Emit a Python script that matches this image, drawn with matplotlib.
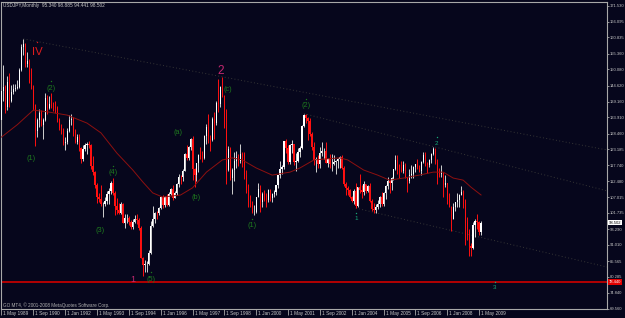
import matplotlib

matplotlib.use("Agg")
import matplotlib.pyplot as plt
import matplotlib.transforms as mtransforms
import numpy as np

plt.rcParams["font.family"] = ["Liberation Sans", "DejaVu Sans"]

# USDJPY monthly bars, May 1989 .. Jun 2009 (one line per year)
bar_open = [
    132.9, 142.9, 144.0, 137.5, 145.8, 139.4, 142.5, 143.5,
    143.8, 144.3, 149.8, 157.5, 158.6, 152.0, 152.9, 146.0, 144.0, 138.2, 129.5, 133.0,
    135.4, 131.3, 133.0, 140.5, 137.0, 138.5, 137.7, 137.5, 137.2, 133.0, 130.5, 129.8,
    125.2, 125.5, 129.2, 133.0, 133.5, 128.5, 125.7, 127.3, 123.5, 119.8, 123.3, 124.5,
    124.8, 124.6, 117.5, 115.6, 111.0, 107.0, 106.5, 104.7, 104.8, 105.8, 108.3, 109.0,
    111.8, 108.5, 104.2, 102.8, 101.8, 104.7, 98.5, 100.1, 100.1, 98.6, 97.1, 98.8,
    99.7, 99.3, 96.6, 86.6, 84.3, 84.4, 84.7, 88.4, 97.3, 99.8, 101.9, 101.8,
    103.4, 107.1, 104.5, 107.1, 104.5, 108.2, 109.7, 106.8, 108.5, 111.4, 114.0, 113.7,
    115.9, 121.5, 120.2, 123.9, 126.8, 116.4, 114.6, 118.5, 121.1, 120.6, 120.3, 127.7,
    130.6, 127.1, 126.3, 133.4, 132.1, 138.9, 138.6, 144.2, 141.1, 135.8, 116.1, 123.4,
    113.6, 116.3, 119.4, 120.6, 119.4, 121.6, 121.1, 114.6, 109.6, 106.1, 104.6, 102.2,
    102.2, 107.2, 109.7, 105.5, 108.2, 107.7, 106.2, 109.6, 106.7, 108.1, 108.9, 111.0,
    114.4, 116.4, 117.3, 125.9, 123.6, 118.8, 124.6, 125.0, 118.8, 119.4, 122.4, 123.5,
    131.0, 134.6, 133.6, 132.7, 128.5, 124.0, 119.5, 119.9, 118.4, 121.8, 122.5, 122.5,
    118.7, 119.9, 118.1, 118.1, 119.0, 119.4, 119.8, 120.5, 116.8, 111.4, 110.0, 109.6,
    107.2, 105.8, 109.1, 104.2, 110.5, 109.5, 108.8, 111.4, 109.2, 110.9, 105.8, 103.1,
    102.6, 103.7, 104.6, 107.2, 104.8, 108.4, 110.9, 112.5, 111.9, 113.5, 116.4, 119.7,
    117.8, 117.2, 116.0, 117.8, 113.8, 112.5, 114.4, 114.7, 117.3, 118.1, 117.0, 115.9,
    119.0, 121.3, 118.6, 117.8, 119.5, 121.7, 123.2, 118.6, 115.8, 114.8, 115.3, 111.2,
    111.7, 106.4, 103.8, 99.7, 103.9, 105.5, 106.2, 107.9, 108.8, 106.0, 98.5, 95.5,
    90.6, 89.9, 97.6, 98.9, 98.6, 95.34,
]
bar_high = [
    144.0, 151.7, 145.0, 147.8, 149.0, 144.8, 145.2, 145.2,
    146.5, 150.5, 158.5, 160.35, 159.0, 155.8, 153.5, 150.5, 145.0, 138.5, 133.8, 136.7,
    136.5, 133.8, 142.0, 141.5, 141.0, 142.0, 139.0, 139.5, 137.8, 133.8, 131.8, 130.5,
    127.3, 130.3, 134.7, 135.0, 134.0, 130.0, 128.2, 128.2, 124.0, 124.5, 125.2, 125.5,
    126.0, 125.0, 121.0, 116.0, 112.0, 108.5, 111.0, 105.5, 107.0, 109.0, 110.0, 112.5,
    113.5, 109.0, 106.8, 105.0, 105.5, 105.0, 101.5, 101.5, 100.6, 99.5, 99.6, 101.0,
    101.4, 99.9, 97.2, 87.0, 85.8, 85.5, 89.2, 99.0, 104.0, 102.0, 102.5, 103.8,
    107.5, 107.8, 107.5, 108.0, 108.9, 110.0, 111.0, 109.0, 111.8, 114.8, 114.5, 116.4,
    122.0, 124.7, 124.3, 127.0, 127.5, 116.8, 118.7, 121.5, 123.8, 122.7, 128.0, 131.7,
    135.2, 128.0, 134.2, 135.6, 139.5, 146.8, 144.5, 147.6, 141.5, 136.6, 124.3, 123.9,
    116.8, 122.4, 122.5, 121.5, 124.8, 122.3, 122.4, 116.3, 111.5, 107.9, 105.8, 104.5,
    107.2, 111.8, 111.1, 108.7, 109.6, 108.6, 109.8, 109.8, 108.5, 109.5, 111.2, 114.6,
    119.4, 117.8, 126.0, 126.8, 124.6, 125.0, 126.2, 125.0, 121.9, 123.7, 124.2, 131.5,
    135.2, 135.0, 134.2, 133.8, 129.0, 125.5, 120.5, 121.3, 124.0, 125.6, 123.5, 125.7,
    120.2, 121.6, 121.5, 121.2, 119.5, 120.2, 120.9, 121.4, 117.4, 112.1, 110.8, 109.9,
    107.4, 109.7, 112.0, 110.6, 114.9, 111.0, 112.4, 111.6, 111.3, 111.8, 106.4, 105.0,
    104.9, 106.0, 107.6, 108.9, 108.8, 111.2, 113.7, 112.7, 113.8, 116.4, 121.4, 121.4,
    118.1, 119.4, 119.4, 118.7, 114.0, 116.7, 117.8, 117.5, 118.3, 119.9, 118.0, 119.1,
    122.2, 122.2, 119.0, 120.0, 122.0, 124.1, 123.6, 119.8, 117.0, 117.9, 115.5, 114.6,
    112.0, 108.6, 104.1, 105.0, 105.6, 108.6, 108.2, 110.7, 109.5, 106.4, 100.5, 96.5,
    91.8, 98.6, 99.7, 101.4, 99.0, 98.885,
]
bar_low = [
    132.5, 139.5, 135.5, 136.5, 137.5, 139.0, 141.7, 142.8,
    143.5, 143.8, 149.5, 155.0, 150.8, 151.0, 145.5, 143.5, 136.5, 124.3, 127.3, 130.8,
    131.0, 126.8, 132.7, 135.2, 136.8, 137.0, 136.0, 135.5, 132.5, 129.7, 128.2, 124.5,
    122.8, 124.8, 129.0, 131.5, 127.8, 125.3, 125.0, 122.5, 118.6, 119.2, 122.5, 121.5,
    123.5, 116.5, 114.5, 110.0, 105.2, 105.5, 104.0, 100.4, 104.0, 104.8, 104.8, 108.2,
    107.8, 101.0, 101.5, 101.5, 101.5, 98.3, 96.6, 98.5, 97.6, 96.3, 96.5, 98.3,
    98.0, 96.0, 86.5, 80.6, 82.0, 82.0, 84.3, 88.0, 97.0, 98.5, 99.8, 101.0,
    103.1, 103.3, 103.8, 104.1, 104.2, 107.8, 106.0, 106.8, 107.8, 110.5, 111.4, 112.5,
    115.9, 119.5, 119.7, 123.0, 113.0, 110.6, 112.5, 115.5, 119.8, 118.9, 120.0, 125.0,
    125.4, 122.5, 126.0, 126.8, 131.5, 135.8, 137.5, 140.7, 130.5, 111.6, 115.8, 112.8,
    108.3, 112.5, 117.0, 117.5, 118.7, 117.2, 113.2, 108.5, 103.7, 103.9, 101.6, 101.2,
    101.6, 107.0, 102.1, 103.9, 105.9, 103.9, 105.3, 105.8, 105.3, 107.2, 107.7, 110.2,
    113.6, 114.8, 116.7, 121.9, 118.1, 118.3, 122.0, 117.8, 115.8, 119.0, 120.6, 123.3,
    130.6, 131.9, 126.3, 127.6, 123.0, 117.9, 115.5, 116.8, 116.8, 121.0, 119.9, 118.6,
    117.2, 116.9, 115.9, 118.0, 115.0, 116.8, 116.8, 116.6, 110.8, 107.9, 107.7, 106.8,
    105.3, 104.6, 103.4, 103.7, 108.5, 106.9, 107.8, 108.5, 108.8, 105.6, 102.5, 101.8,
    101.7, 103.2, 103.6, 104.2, 104.2, 106.6, 109.8, 108.6, 109.6, 112.9, 116.3, 115.0,
    113.4, 115.5, 115.1, 113.6, 108.9, 111.8, 113.4, 113.6, 115.5, 116.7, 115.4, 114.4,
    118.5, 117.6, 115.2, 117.2, 118.6, 121.2, 118.4, 111.6, 113.8, 113.8, 107.2, 110.4,
    104.9, 103.8, 95.8, 99.7, 102.4, 103.7, 103.8, 107.8, 103.5, 90.9, 92.5, 87.1,
    87.2, 89.6, 93.5, 96.5, 94.4, 94.441,
]
bar_close = [
    142.9, 144.0, 137.5, 145.8, 139.4, 142.5, 143.5, 143.8,
    144.3, 149.8, 157.5, 158.6, 152.0, 152.9, 146.0, 144.0, 138.2, 129.5, 133.0, 135.4,
    131.3, 133.0, 140.5, 137.0, 138.5, 137.7, 137.5, 137.2, 133.0, 130.5, 129.8, 125.2,
    125.5, 129.2, 133.0, 133.5, 128.5, 125.7, 127.3, 123.5, 119.8, 123.3, 124.5, 124.8,
    124.6, 117.5, 115.6, 111.0, 107.0, 106.5, 104.7, 104.8, 105.8, 108.3, 109.0, 111.8,
    108.5, 104.2, 102.8, 101.8, 104.7, 98.5, 100.1, 100.1, 98.6, 97.1, 98.8, 99.7,
    99.3, 96.6, 86.6, 84.3, 84.4, 84.7, 88.4, 97.3, 99.8, 101.9, 101.8, 103.4,
    107.1, 104.5, 107.1, 104.5, 108.2, 109.7, 106.8, 108.5, 111.4, 114.0, 113.7, 115.9,
    121.5, 120.2, 123.9, 126.8, 116.4, 114.6, 118.5, 121.1, 120.6, 120.3, 127.7, 130.6,
    127.1, 126.3, 133.4, 132.1, 138.9, 138.6, 144.2, 141.1, 135.8, 116.1, 123.4, 113.6,
    116.3, 119.4, 120.6, 119.4, 121.6, 121.1, 114.6, 109.6, 106.1, 104.6, 102.2, 102.2,
    107.2, 109.7, 105.5, 108.2, 107.7, 106.2, 109.6, 106.7, 108.1, 108.9, 111.0, 114.4,
    116.4, 117.3, 125.9, 123.6, 118.8, 124.6, 125.0, 118.8, 119.4, 122.4, 123.5, 131.0,
    134.6, 133.6, 132.7, 128.5, 124.0, 119.5, 119.9, 118.4, 121.8, 122.5, 122.5, 118.7,
    119.9, 118.1, 118.1, 119.0, 119.4, 119.8, 120.5, 116.8, 111.4, 110.0, 109.6, 107.2,
    105.8, 109.1, 104.2, 110.5, 109.5, 108.8, 111.4, 109.2, 110.9, 105.8, 103.1, 102.6,
    103.7, 104.6, 107.2, 104.8, 108.4, 110.9, 112.5, 111.9, 113.5, 116.4, 119.7, 117.8,
    117.2, 116.0, 117.8, 113.8, 112.5, 114.4, 114.7, 117.3, 118.1, 117.0, 115.9, 119.0,
    121.3, 118.6, 117.8, 119.5, 121.7, 123.2, 118.6, 115.8, 114.8, 115.3, 111.2, 111.7,
    106.4, 103.8, 99.7, 103.9, 105.5, 106.2, 107.9, 108.8, 106.0, 98.5, 95.5, 90.6,
    89.9, 97.6, 98.9, 98.6, 95.3, 98.502,
]

# moving average as drawn on the chart (month index, price)
ma_month = [0, 8, 16, 24, 33, 43, 50, 58, 66, 71, 76, 81, 90, 96, 103, 111, 116, 121,
            128, 136, 145, 150, 157, 162, 170, 174, 182, 189, 195, 202, 210, 217, 222,
            227, 232, 236, 241]
ma_price = [127.3, 131.5, 136.4, 135.7, 134.7, 132.0, 128.7, 121.9, 116.2, 112.2, 108.5,
            107.1, 107.8, 110.2, 115.5, 119.6, 120.3, 119.6, 116.9, 114.5, 115.5, 116.9,
            119.6, 119.9, 120.3, 119.6, 116.2, 114.5, 112.8, 113.5, 114.5, 115.5, 115.5,
            113.5, 112.8, 110.4, 107.8]

date_months = [0, 16, 32, 48, 64, 80, 96, 112, 128, 144, 160, 176, 192, 208, 224, 240]
date_labels = ["1 May 1989", "1 Sep 1990", "1 Jan 1992", "1 May 1993", "1 Sep 1994",
               "1 Jan 1996", "1 May 1997", "1 Sep 1998", "1 Jan 2000", "1 May 2001",
               "1 Sep 2002", "1 Jan 2004", "1 May 2005", "1 Sep 2006", "1 Jan 2008",
               "1 May 2009"]
price_ticks = [171.530, 166.095, 160.835, 155.360, 150.080, 144.620, 139.160, 133.910,
               128.460, 123.185, 117.740, 112.480, 107.015, 101.735, 96.290, 91.010,
               85.565, 80.285, 74.840, 69.560]

last_price = 98.502
support_price = 78.44

# trend lines, two anchor points each (month index, price)
trend_lines = [((11, 160.35), (111, 147.6)),
               ((152, 135.2), (217, 124.1)),
               ((178, 103.4), (304, 83.6))]

GREEN = "#1e7a1e"
PINK = "#c42870"
RED = "#e01c1c"
TEAL = "#18a878"
# wave labels: text, month index, price, colour, size, dot above
wave_labels = [
    ("IV", 17.8, 155.9, RED, 8.2, True),
    ("(2)", 24.9, 143.8, GREEN, 5.3, True),
    ("(1)", 14.8, 120.2, GREEN, 5.3, False),
    ("(a)", 88.7, 129.0, GREEN, 5.3, False),
    ("(4)", 56.0, 115.5, GREEN, 5.3, True),
    ("(b)", 97.7, 107.1, GREEN, 5.3, False),
    ("(3)", 49.5, 96.0, GREEN, 5.3, False),
    ("1", 66.1, 79.5, PINK, 6.5, False),
    ("(5)", 75.1, 79.5, GREEN, 5.3, True),
    ("2", 110.3, 149.5, PINK, 8.5, False),
    ("(c)", 113.8, 143.4, GREEN, 5.3, False),
    ("(2)", 153.0, 137.8, GREEN, 5.3, True),
    ("(1)", 125.9, 97.4, GREEN, 5.3, True),
    ("1", 178.2, 100.0, TEAL, 4.5, True),
    ("2", 218.8, 125.3, TEAL, 4.5, True),
    ("3", 248.0, 76.5, TEAL, 4.5, True),
]

BG = "#06061c"
FG = "#c8c8c8"
AXC = "#a8a8a8"

fig = plt.figure(figsize=(6.25, 3.18), dpi=100, facecolor=BG)
ax = fig.add_axes([1 / 625, 8.7 / 318, 606 / 625, 307.6 / 318], facecolor=BG)

o = np.array(bar_open)
h = np.array(bar_high)
l = np.array(bar_low)
c = np.array(bar_close)
idx = np.arange(len(c))
up = c >= o

ax.vlines(idx[up], l[up], h[up], colors="#d0d0d0", lw=0.7, zorder=2)
ax.vlines(idx[~up], l[~up], h[~up], colors="#ff1010", lw=0.7, zorder=2)
ax.bar(idx[up], (c - o)[up], bottom=o[up], width=0.6, color="#ffffff", lw=0, zorder=3)
ax.bar(idx[~up], (c - o)[~up], bottom=o[~up], width=0.6, color="#ff1010", lw=0, zorder=3)

ax.plot(ma_month, ma_price, color="#8e1010", lw=0.7, zorder=4)
ax.axhline(support_price, color="#c00000", lw=1.3, zorder=1)

x_right = 304.3
for (x0, y0), (x1, y1) in trend_lines:
    k = (y1 - y0) / (x1 - x0)
    ax.plot([x0, x_right], [y0, y0 + k * (x_right - x0)], color="#363636",
            lw=0.7, ls=(0, (1, 2.4)), zorder=1)

for txt, m, p, col, size, dot in wave_labels:
    ax.text(m, p, txt, color=col, fontsize=size, ha="center", va="center", zorder=6)
    if dot:
        ax.plot(m, p + size * 0.42, marker="o", ms=1.0, mew=0, color=col, zorder=6)

ax.set_xlim(-0.25, x_right)
ax.set_ylim(69.31, 172.88)

for s in ax.spines.values():
    s.set_color(AXC)
    s.set_linewidth(0.8)

ax.yaxis.tick_right()
ax.set_yticks(price_ticks, [f"{v:.3f}" for v in price_ticks])
ax.tick_params(axis="y", colors=AXC, labelcolor=FG, length=1.5, width=0.6, pad=0.4,
               labelsize=3.0)

ax.set_xticks(date_months, date_labels)
ax.tick_params(axis="x", colors=AXC, labelcolor=FG, length=4, width=0.6, pad=-2.8,
               labelsize=3.4)
shift = mtransforms.ScaledTranslation(2 / 100, 0, fig.dpi_scale_trans)
for lbl in ax.get_xticklabels():
    lbl.set_horizontalalignment("left")
    lbl.set_transform(lbl.get_transform() + shift)

trans = mtransforms.blended_transform_factory(ax.transAxes, ax.transData)
ax.text(1.003, last_price, f"{last_price:.3f}", transform=trans, ha="left", va="center",
        fontsize=3.0, color="black", clip_on=False, zorder=7,
        bbox=dict(boxstyle="square,pad=0.2", fc="white", ec="none"))
ax.text(1.003, support_price, f"{support_price:.3f}", transform=trans, ha="left",
        va="center", fontsize=3.0, color="white", clip_on=False, zorder=7,
        bbox=dict(boxstyle="square,pad=0.2", fc="#e00000", ec="none"))

fig.text(3 / 625, 1 - 5.5 / 318, "USDJPY,Monthly  95.340 98.885 94.441 98.502",
         color=FG, fontsize=3.4, va="center")
fig.text(3 / 625, 1 - 305 / 318, "GO MT4, \u00a9 2001-2008 MetaQuotes Software Corp.",
         color="#b0b0b0", fontsize=3.3, va="center")

fig.savefig("out.png", dpi=100, facecolor=BG)
